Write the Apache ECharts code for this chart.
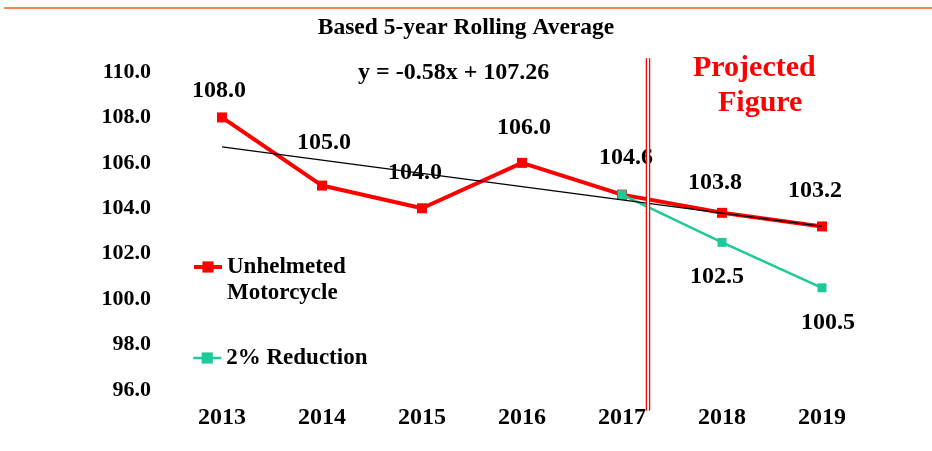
<!DOCTYPE html>
<html>
<head>
<meta charset="utf-8">
<script src="https://cdn.jsdelivr.net/npm/echarts@6/dist/echarts.min.js"></script>
<style>
    html, body { margin: 0; padding: 0; background: #fff; }
    #chart { width: 932px; height: 451px; }
</style>
</head>
<body>
<div id="chart"></div>
<script>
// data
var years = ['2013', '2014', '2015', '2016', '2017', '2018', '2019'];
var unhelmeted = [108.0, 105.0, 104.0, 106.0, 104.6, 103.8, 103.2];
var reduction = [null, null, null, null, 104.6, 102.5, 100.5];
// trend line y = -0.58x + 107.26, read at both ends
var trendLine = [106.7, null, null, null, null, null, 103.2];
// the double red divider between actual and projected years
var dividerX = 4.76;
var dividerY = [110.6, 95.1];

// label nudges (px)
var redLabelOffsets = [[-3, 0], [2, -16], [-7, -8], [2, -8], [4, -10], [-7, -3], [-7, -9]];
var greenLabelOffsets = [null, null, null, null, null, [-5, 8], [6, 9]];

var serif = 'Liberation Serif';
var red = '#ff0000';
var green = '#1ec99a';

function makeData(values, offsets) {
    var out = [];
    for (var i = 0; i < values.length; i++) {
        if (offsets[i]) {
            out.push({ value: values[i], label: { show: true, offset: offsets[i] } });
        } else {
            out.push({ value: values[i], label: { show: false } });
        }
    }
    return out;
}

var myChart = echarts.init(document.getElementById('chart'));

var legendText = { fontFamily: serif, fontWeight: 'bold', fontSize: 23, color: '#000', lineHeight: 26 };

var option = {
    backgroundColor: '#fff',
    animation: false,
    title: [{
        text: 'Based 5-year Rolling Average',
        left: 'center',
        top: 11,
        textStyle: { fontFamily: serif, fontWeight: 'bold', fontSize: 23.5, color: '#000' }
    }, {
        text: 'y = -0.58x + 107.26',
        left: 353,
        top: 56,
        textStyle: { fontFamily: serif, fontWeight: 'bold', fontSize: 24, color: '#000' }
    }, {
        text: 'Projected',
        left: 688,
        top: 48,
        textStyle: { fontFamily: serif, fontWeight: 'bold', fontSize: 30, color: red }
    }, {
        text: 'Figure',
        left: 713,
        top: 83,
        textStyle: { fontFamily: serif, fontWeight: 'bold', fontSize: 30, color: red }
    }],
    graphic: [{
        type: 'line',
        shape: { x1: 4, y1: 8, x2: 932, y2: 8 },
        style: { stroke: '#f5894b', lineWidth: 2 }
    }],
    legend: [{
        data: ['Unhelmeted Motorcycle'],
        left: 187,
        top: 223,
        itemWidth: 28,
        itemHeight: 14,
        lineStyle: { width: 'inherit' },
        formatter: function () { return '\nUnhelmeted\nMotorcycle'; },
        textStyle: legendText
    }, {
        data: ['2% Reduction'],
        left: 187,
        top: 340,
        itemWidth: 28,
        itemHeight: 14,
        lineStyle: { width: 'inherit' },
        textStyle: legendText
    }],
    grid: { left: 172, right: 60, top: 72, bottom: 61 },
    xAxis: [{
        type: 'category',
        data: years,
        axisLine: { show: false },
        axisTick: { show: false },
        axisLabel: { fontFamily: serif, fontWeight: 'bold', fontSize: 24, color: '#000', margin: 16 }
    }, {
        type: 'value',
        min: 0,
        max: 7,
        show: false
    }],
    yAxis: {
        type: 'value',
        min: 96,
        max: 110,
        interval: 2,
        axisLine: { show: false },
        axisTick: { show: false },
        splitLine: { show: false },
        axisLabel: {
            fontFamily: serif, fontWeight: 'bold', fontSize: 22, color: '#000', margin: 21,
            formatter: function (v) { return v.toFixed(1); }
        }
    },
    series: [{
        name: 'Unhelmeted Motorcycle',
        type: 'line',
        data: makeData(unhelmeted, redLabelOffsets),
        symbol: 'rect',
        symbolSize: 10,
        lineStyle: { color: red, width: 4 },
        itemStyle: { color: red },
        label: {
            position: 'top',
            distance: 10,
            fontFamily: serif, fontWeight: 'bold', fontSize: 24, color: '#000',
            formatter: function (p) { return p.value.toFixed(1); }
        },
        z: 2
    }, {
        name: '2% Reduction',
        type: 'line',
        data: makeData(reduction, greenLabelOffsets),
        symbol: 'rect',
        symbolSize: 9,
        lineStyle: { color: green, width: 2.5 },
        itemStyle: { color: green },
        label: {
            position: 'bottom',
            distance: 10,
            fontFamily: serif, fontWeight: 'bold', fontSize: 24, color: '#000',
            formatter: function (p) { return p.value.toFixed(1); }
        },
        z: 3
    }, {
        name: 'Trend',
        type: 'line',
        data: trendLine,
        connectNulls: true,
        symbol: 'none',
        lineStyle: { color: '#000', width: 1.3 },
        silent: true,
        z: 4
    }, {
        name: 'Divider',
        type: 'line',
        xAxisIndex: 1,
        data: [[dividerX, dividerY[0]], [dividerX, dividerY[1]]],
        symbol: 'none',
        clip: false,
        lineStyle: { color: red, width: 4.5 },
        silent: true,
        z: 5
    }, {
        name: 'DividerGap',
        type: 'line',
        xAxisIndex: 1,
        data: [[dividerX, dividerY[0]], [dividerX, dividerY[1]]],
        symbol: 'none',
        clip: false,
        lineStyle: { color: '#fff', width: 2 },
        silent: true,
        z: 6
    }]
};

myChart.setOption(option);
</script>
</body>
</html>
